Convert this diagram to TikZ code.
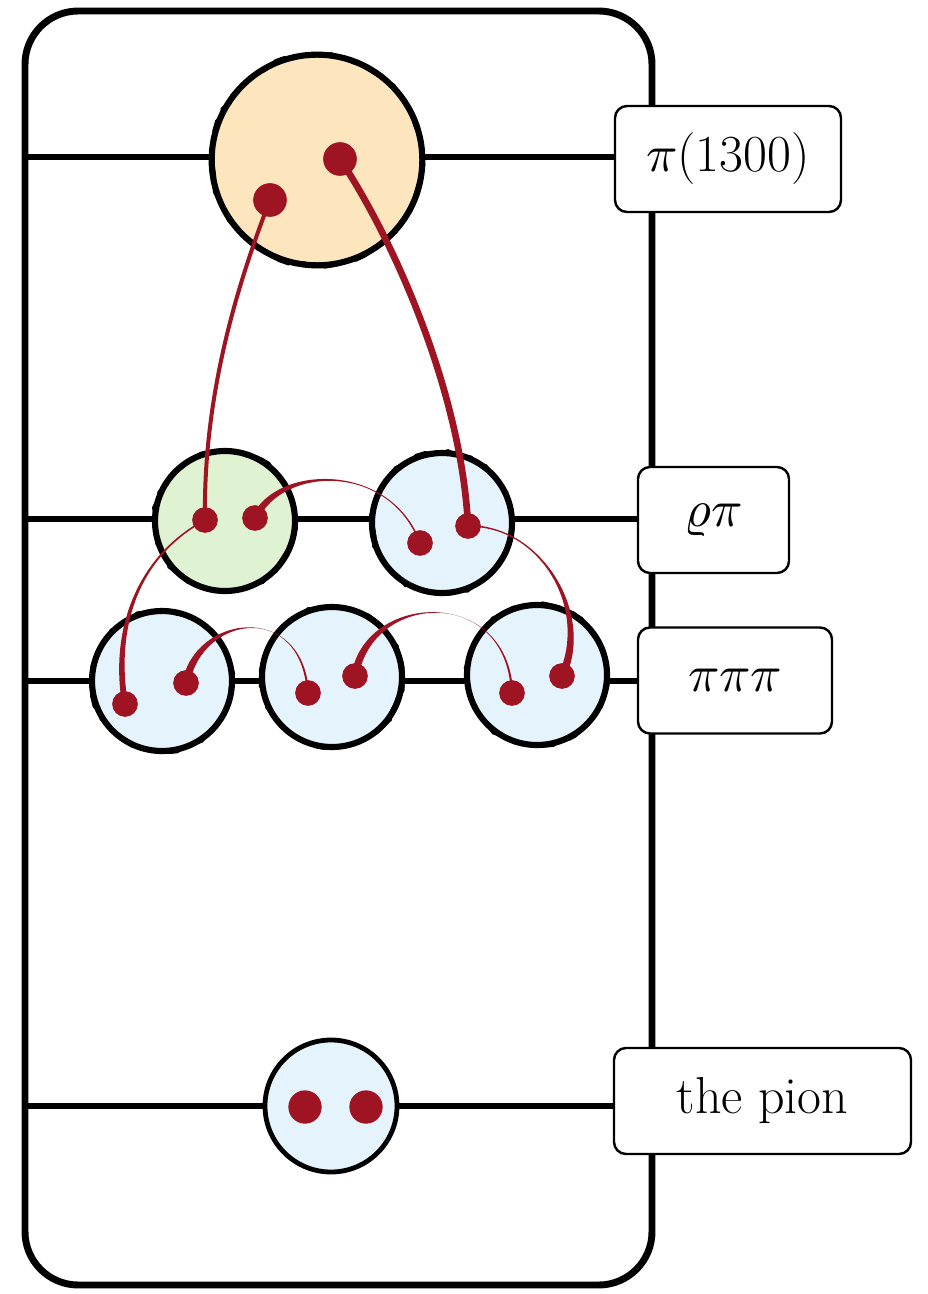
\documentclass[tikz,border=0pt]{standalone}
\usepackage{unicode-math}
\usetikzlibrary{calc,decorations.pathmorphing}
\definecolor{quark}{HTML}{9E1422}
\definecolor{excited}{HTML}{FDE6BE}
\definecolor{rhofill}{HTML}{DFF2D2}
\definecolor{pionfill}{HTML}{E5F4FC}

% tapered quark line: start, control 1, control 2, end, half width at start, half width at end
\newcommand\taper[6]{%
  \fill[quark] ($#1!#5!90:#2$) .. controls ($#2!#5!-90:#1$) and ($#3!#6!90:#4$) .. ($#4!#6!-90:#3$)
    -- ($#4!#6!90:#3$) .. controls ($#3!#6!-90:#4$) and ($#2!#5!90:#1$) .. ($#1!#5!-90:#2$) -- cycle;}

\tikzset{
  frame/.style={line width=5.2pt, rounded corners=40pt},
  level/.style={line width=4.4pt},
  meson/.style={circle, draw, line width=4.6pt, inner sep=0pt, outer sep=0pt,
    minimum size=105pt,
    postaction={draw, line width=2.6pt, decorate,
      decoration={random steps, segment length=6pt, amplitude=1.4pt}}},
  plainmeson/.style={circle, draw, line width=3.6pt, inner sep=0pt, outer sep=0pt, minimum size=99pt},
  dot/.style={circle, fill=quark, inner sep=0pt, outer sep=0pt, minimum size=19pt},
  bigdot/.style={dot, minimum size=25pt},
  tag/.style={draw, fill=white, line width=1.8pt, rounded corners=9pt,
    minimum height=79.5pt, inner sep=0pt, font=\fontsize{39}{46}\selectfont},
}

\begin{document}
\begin{tikzpicture}[x=0.75pt, y=-0.75pt]
\pgfmathsetseed{7}
\useasboundingbox (0,0) rectangle (927,1294);

% outer frame
\draw[frame] (25,11) rectangle (652,1285);

% level labels
\node[tag, minimum width=169.5pt] (t1) at (728,159) {$\pi$(1300)};
\node[tag, minimum width=113.25pt] (t2) at (713.5,520) {$\varrho\pi$};
\node[tag, minimum width=145.5pt] (t3) at (735,680.5) {$\pi\pi\pi$};
\node[tag, minimum width=222.75pt] (t4) at (762.5,1101) {the pion};

% level lines
\coordinate (f1) at (25,157);
\coordinate (f2) at (25,519);
\coordinate (f3) at (25,681);
\coordinate (f4) at (25,1106);
\draw[level] (f1) -- (f1 -| t1.west);
\draw[level] (f2) -- (f2 -| t2.west);
\draw[level] (f3) -- (f3 -| t3.west);
\draw[level] (f4) -- (f4 -| t4.west);

% mesons
\node[meson, fill=excited, minimum size=158pt] (m0) at (317,160) {};
\node[meson, fill=rhofill] (rho) at (225,521) {};
\node[meson, fill=pionfill] (pa) at (442,523) {};
\node[meson, fill=pionfill] (p1) at (162,681) {};
\node[meson, fill=pionfill] (p2) at (332,677) {};
\node[meson, fill=pionfill] (p3) at (537,675) {};
\node[plainmeson, fill=pionfill] (pion) at (331,1106) {};

% quarks
\node[bigdot] (q1) at (270,200) {};
\node[bigdot] (q2) at (340,159) {};
\node[dot] (r1) at (205,520) {};
\node[dot] (r2) at (255,518) {};
\node[dot] (a1) at (420,543) {};
\node[dot] (a2) at (468,526) {};
\node[dot] (b1) at (125,704) {};
\node[dot] (b2) at (186,683) {};
\node[dot] (c1) at (308,693) {};
\node[dot] (c2) at (355,676) {};
\node[dot] (d1) at (512,693) {};
\node[dot] (d2) at (562,676) {};
\node[bigdot] (e1) at (305,1107) {};
\node[bigdot] (e2) at (366,1107) {};

% quark lines
\draw[quark, line width=3pt] (q1.center) .. controls (235,290) and (203,400) .. (r1.center);
\draw[quark, line width=5pt] (q2.center) .. controls (400,250) and (462,400) .. (a2.center);
\taper{(r2)}{(280,465)}{(390,462)}{(a1)}{2.6pt}{0.6pt}
\taper{(r1)}{(140,555)}{(112,625)}{(b1)}{0.6pt}{2.2pt}
\taper{(a2)}{(540,525)}{(592,610)}{(d2)}{0.6pt}{2.8pt}
\taper{(b2)}{(198,615)}{(302,600)}{(c1)}{2.8pt}{0.8pt}
\taper{(c2)}{(368,592)}{(508,585)}{(d1)}{2.8pt}{0.8pt}

% redraw quark dots on top of the lines
\foreach \q in {q1,q2}{\node[bigdot] at (\q) {};}
\foreach \q in {r1,r2,a1,a2,b1,b2,c1,c2,d1,d2}{\node[dot] at (\q) {};}
\end{tikzpicture}
\end{document}
